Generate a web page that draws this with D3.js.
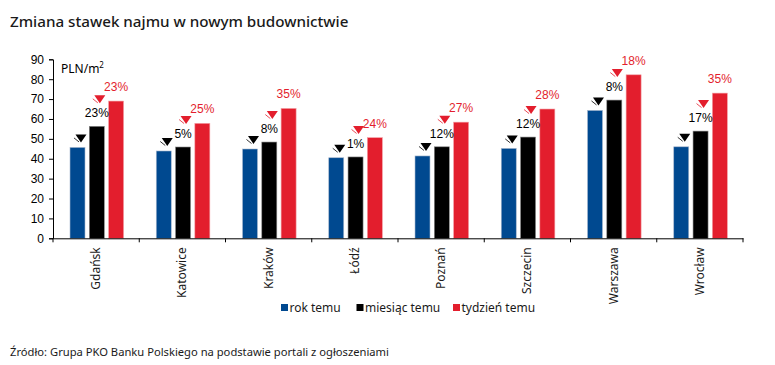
<!DOCTYPE html>
<html><head><meta charset="utf-8">
<script src="https://cdn.jsdelivr.net/npm/d3@7"></script>
<style>
body{margin:0;background:#fff;}
svg{display:block;}
</style></head>
<body>
<script>
const categories = ["Gdańsk","Katowice","Kraków","Łódź","Poznań","Szczecin","Warszawa","Wrocław"];
const seriesNames = ["rok temu","miesiąc temu","tydzień temu"];
const rokTemu = [45.7, 43.9, 44.9, 40.5, 41.4, 45.2, 64.3, 46.0];
const miesiacTemu = [56.3, 45.9, 48.4, 40.9, 46.0, 50.9, 69.5, 53.9];
const tydzienTemu = [69.0, 57.8, 65.3, 50.6, 58.4, 65.0, 82.2, 73.0];
const changeMonth = ["23%","5%","8%","1%","12%","12%","8%","17%"];
const changeWeek = ["23%","25%","35%","24%","27%","28%","18%","35%"];
const yTicks = [0,10,20,30,40,50,60,70,80,90];

const colors = ["#004990","#000000","#E31E2D"];
const W = 775, H = 365;
const svg = d3.select("body").append("svg").attr("width", W).attr("height", H);

const titleFont = "'Noto Sans', sans-serif";
const numFont = "'Liberation Sans', Arial, sans-serif";

svg.append("text").attr("x", 10).attr("y", 27)
  .attr("font-family", titleFont).attr("font-size", 15.2).attr("font-weight", 500)
  .attr("fill", "#1a1a1a").text("Zmiana stawek najmu w nowym budownictwie");

const x = d3.scaleBand().domain(categories).range([53, 743]).paddingInner(0).paddingOuter(0);
const xs = d3.scaleBand().domain(seriesNames).range([17, 70.6]).paddingInner(0.223).paddingOuter(0);
const y = d3.scaleLinear().domain([0, 90]).range([238.3, 59.3]);

// Y axis
const yAxis = svg.append("g").attr("transform", "translate(53,0)")
  .call(d3.axisLeft(y).tickValues(yTicks).tickSize(4).tickPadding(5).tickFormat(d3.format("d")));
yAxis.selectAll("text").attr("font-family", numFont).attr("font-size", 12).attr("fill", "#000");
yAxis.selectAll("line,path").attr("stroke", "#000").attr("stroke-width", 1);

svg.append("text").attr("x", 61).attr("y", 73).attr("font-family", titleFont)
  .attr("font-size", 12).attr("fill", "#000")
  .html("PLN/m<tspan dy='-5' font-size='8'>2</tspan>");

const data = categories.map((c, i) => ({cat: c, vals: [rokTemu[i], miesiacTemu[i], tydzienTemu[i]], m: changeMonth[i], w: changeWeek[i]}));

const g = svg.selectAll("g.cat").data(data).join("g").attr("class", "cat")
  .attr("transform", d => `translate(${x(d.cat)},0)`);

g.selectAll("rect").data(d => d.vals.map((v, k) => ({v, k}))).join("rect")
  .attr("x", d => xs(seriesNames[d.k]))
  .attr("width", xs.bandwidth())
  .attr("y", d => y(d.v))
  .attr("height", d => y(0) - y(d.v))
  .attr("fill", d => colors[d.k])
  .attr("stroke", d => d.k === 0 ? "#a9b9cf" : (d.k === 2 ? "#f3a0a6" : "#888"))
  .attr("stroke-width", 0.6);

function marker(sel, cx, cy, color) {
  sel.append("path")
    .attr("d", `M${cx-5.5},${cy-4} L${cx+5.5},${cy-4} L${cx},${cy+4} Z`)
    .attr("fill", color);
  sel.append("line")
    .attr("x1", cx-7).attr("y1", cy-0.5).attr("x2", cx-2).attr("y2", cy+3.5)
    .attr("stroke", color).attr("stroke-width", 0.8);
}

g.each(function(d) {
  const s = d3.select(this);
  const bw = xs.bandwidth();
  const cBlue = xs(seriesNames[0]) + bw/2;
  const cBlack = xs(seriesNames[1]) + bw/2;
  const cRed = xs(seriesNames[2]) + bw/2;
  marker(s, cBlue + 3.5, y(d.vals[0]) - 9, "#000");
  s.append("text").attr("x", cBlack).attr("y", y(d.vals[1]) - 9)
    .attr("text-anchor", "middle").attr("font-family", numFont).attr("font-size", 12)
    .attr("fill", "#000").text(d.m);
  marker(s, cBlack + 3, y(d.vals[1]) - 27, "#E31E2D");
  s.append("text").attr("x", cRed).attr("y", y(d.vals[2]) - 10)
    .attr("text-anchor", "middle").attr("font-family", numFont).attr("font-size", 12)
    .attr("fill", "#E31E2D").text(d.w);
});

// X axis
const xAxis = svg.append("g").attr("transform", `translate(0,${y(0)})`)
  .call(d3.axisBottom(x).tickSize(0).tickFormat(""));
xAxis.select("path").attr("stroke", "#000");
xAxis.selectAll(".tick").remove();
const bounds = d3.range(categories.length + 1).map(i => 53 + i * x.step());
xAxis.selectAll("line.b").data(bounds).join("line").attr("class", "b")
  .attr("x1", d => d).attr("x2", d => d).attr("y1", 0).attr("y2", 4)
  .attr("stroke", "#000");
xAxis.selectAll("text.lab").data(categories).join("text").attr("class", "lab")
  .attr("transform", d => `translate(${x(d) + x.bandwidth()/2 + 4},9) rotate(-90)`)
  .attr("text-anchor", "end").attr("font-family", titleFont).attr("font-size", 12)
  .attr("fill", "#1a1a1a").text(d => d);

// Legend
const legendX = [281, 356.5, 453];
const leg = svg.selectAll("g.leg").data(seriesNames).join("g").attr("class", "leg")
  .attr("transform", (d, i) => `translate(${legendX[i]},304)`);
leg.append("rect").attr("width", 7).attr("height", 7).attr("fill", (d, i) => colors[i]);
leg.append("text").attr("x", 8.5).attr("y", 7.5).attr("font-family", titleFont)
  .attr("font-size", 12).attr("fill", "#1a1a1a").text(d => d);

svg.append("text").attr("x", 10).attr("y", 356).attr("font-family", titleFont)
  .attr("font-size", 11.2).attr("fill", "#1a1a1a")
  .text("Źródło: Grupa PKO Banku Polskiego na podstawie portali z ogłoszeniami");
</script>
</body></html>
